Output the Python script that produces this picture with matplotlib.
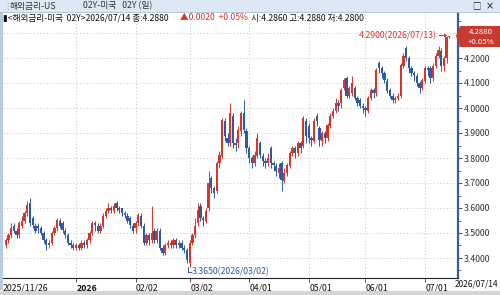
import numpy as np
import pandas as pd
import matplotlib
matplotlib.use("Agg")
import matplotlib.pyplot as plt
from matplotlib.patches import Rectangle, Polygon

# daily candles, 02Y US treasury yield
dates = pd.bdate_range("2025-11-26", "2026-07-14")

opens = [3.45, 3.47, 3.49, 3.53, 3.51, 3.49, 3.53, 3.55, 3.58, 3.62,
         3.56, 3.53, 3.53, 3.52, 3.50, 3.47, 3.45, 3.46, 3.50, 3.52,
         3.55, 3.54, 3.51, 3.49, 3.46, 3.45, 3.44, 3.45, 3.44, 3.46,
         3.45, 3.47, 3.50, 3.54, 3.53, 3.51, 3.53, 3.57, 3.59, 3.60,
         3.59, 3.62, 3.60, 3.60, 3.58, 3.57, 3.56, 3.53, 3.52, 3.54,
         3.57, 3.53, 3.46, 3.49, 3.47, 3.51, 3.47, 3.51, 3.44, 3.42,
         3.45, 3.46, 3.45, 3.47, 3.45, 3.46, 3.44, 3.43, 3.38, 3.46,
         3.49, 3.54, 3.61, 3.56, 3.55, 3.60, 3.72, 3.68, 3.67, 3.78,
         3.81, 3.95, 3.88, 3.86, 3.97, 3.86, 3.86, 3.91, 3.98, 3.91,
         3.84, 3.80, 3.78, 3.81, 3.86, 3.81, 3.79, 3.78, 3.84, 3.78,
         3.77, 3.74, 3.78, 3.71, 3.74, 3.77, 3.82, 3.84, 3.82, 3.86,
         3.85, 3.95, 3.93, 3.88, 3.87, 3.97, 3.92, 3.87, 3.90, 3.88,
         3.93, 3.97, 3.99, 4.02, 4.02, 4.08, 4.12, 4.05, 4.06, 4.08,
         4.04, 4.03, 4.01, 4.00, 3.99, 4.04, 4.07, 4.06, 4.18, 4.16,
         4.14, 4.11, 4.07, 4.05, 4.03, 4.04, 4.05, 4.17, 4.24, 4.20,
         4.16, 4.14, 4.13, 4.10, 4.08, 4.11, 4.16, 4.16, 4.12, 4.17,
         4.21, 4.23, 4.17, 4.20, 4.286]
closes = [3.47, 3.49, 3.52, 3.51, 3.49, 3.54, 3.55, 3.58, 3.61, 3.54,
          3.53, 3.51, 3.52, 3.50, 3.47, 3.45, 3.46, 3.50, 3.52, 3.55,
          3.53, 3.51, 3.49, 3.46, 3.45, 3.44, 3.45, 3.44, 3.46, 3.45,
          3.47, 3.50, 3.54, 3.53, 3.51, 3.53, 3.57, 3.59, 3.60, 3.59,
          3.61, 3.60, 3.59, 3.58, 3.57, 3.55, 3.53, 3.51, 3.54, 3.57,
          3.53, 3.46, 3.49, 3.47, 3.50, 3.47, 3.51, 3.44, 3.42, 3.45,
          3.46, 3.45, 3.47, 3.45, 3.46, 3.44, 3.43, 3.39, 3.46, 3.49,
          3.53, 3.59, 3.56, 3.55, 3.59, 3.70, 3.68, 3.66, 3.78, 3.81,
          3.95, 3.89, 3.86, 3.98, 3.86, 3.85, 3.91, 3.98, 3.91, 3.84,
          3.80, 3.78, 3.81, 3.88, 3.81, 3.79, 3.78, 3.80, 3.78, 3.77,
          3.75, 3.76, 3.71, 3.74, 3.77, 3.82, 3.84, 3.82, 3.86, 3.84,
          3.96, 3.89, 3.88, 3.87, 3.95, 3.95, 3.87, 3.90, 3.88, 3.93,
          3.97, 3.99, 4.02, 4.01, 4.07, 4.11, 4.05, 4.08, 4.10, 4.04,
          4.02, 4.01, 4.00, 3.99, 4.04, 4.07, 4.06, 4.15, 4.16, 4.14,
          4.11, 4.07, 4.05, 4.03, 4.04, 4.05, 4.17, 4.21, 4.20, 4.16,
          4.14, 4.13, 4.10, 4.08, 4.11, 4.16, 4.15, 4.12, 4.17, 4.21,
          4.23, 4.17, 4.20, 4.286, 4.288]
highs = [3.48, 3.50, 3.54, 3.54, 3.52, 3.55, 3.57, 3.59, 3.63, 3.64,
         3.57, 3.54, 3.54, 3.53, 3.51, 3.48, 3.47, 3.51, 3.53, 3.56,
         3.56, 3.55, 3.52, 3.50, 3.47, 3.46, 3.46, 3.46, 3.47, 3.47,
         3.48, 3.51, 3.55, 3.55, 3.54, 3.54, 3.58, 3.60, 3.62, 3.61,
         3.62, 3.63, 3.61, 3.60, 3.59, 3.58, 3.57, 3.54, 3.55, 3.58,
         3.58, 3.54, 3.50, 3.50, 3.61, 3.52, 3.52, 3.52, 3.45, 3.46,
         3.47, 3.47, 3.48, 3.48, 3.47, 3.47, 3.45, 3.44, 3.47, 3.50,
         3.56, 3.62, 3.62, 3.57, 3.60, 3.75, 3.73, 3.69, 3.79, 3.83,
         3.96, 3.96, 3.90, 4.02, 3.98, 3.88, 3.93, 3.99, 4.03, 3.92,
         3.85, 3.81, 3.83, 3.90, 3.87, 3.82, 3.80, 3.82, 3.85, 3.79,
         3.78, 3.78, 3.79, 3.76, 3.78, 3.83, 3.85, 3.85, 3.87, 3.87,
         3.97, 3.96, 3.94, 3.89, 3.96, 3.98, 3.93, 3.91, 3.91, 3.94,
         3.98, 4.00, 4.04, 4.03, 4.08, 4.12, 4.13, 4.09, 4.13, 4.09,
         4.05, 4.04, 4.02, 4.01, 4.05, 4.08, 4.08, 4.16, 4.19, 4.17,
         4.15, 4.12, 4.08, 4.06, 4.05, 4.06, 4.18, 4.22, 4.25, 4.21,
         4.17, 4.15, 4.14, 4.11, 4.12, 4.17, 4.17, 4.17, 4.18, 4.22,
         4.25, 4.24, 4.21, 4.29, 4.288]
lows = [3.44, 3.46, 3.48, 3.50, 3.48, 3.48, 3.52, 3.54, 3.57, 3.53,
        3.52, 3.50, 3.50, 3.49, 3.46, 3.43, 3.44, 3.45, 3.49, 3.51,
        3.52, 3.50, 3.48, 3.45, 3.44, 3.43, 3.43, 3.43, 3.43, 3.44,
        3.44, 3.46, 3.49, 3.51, 3.50, 3.50, 3.52, 3.56, 3.58, 3.58,
        3.58, 3.59, 3.58, 3.57, 3.56, 3.54, 3.52, 3.50, 3.50, 3.53,
        3.52, 3.45, 3.45, 3.45, 3.46, 3.46, 3.46, 3.43, 3.41, 3.41,
        3.44, 3.44, 3.44, 3.44, 3.44, 3.43, 3.42, 3.38, 3.365, 3.45,
        3.48, 3.53, 3.55, 3.53, 3.54, 3.59, 3.66, 3.64, 3.66, 3.76,
        3.80, 3.87, 3.85, 3.85, 3.84, 3.83, 3.84, 3.89, 3.90, 3.82,
        3.78, 3.76, 3.77, 3.80, 3.80, 3.77, 3.76, 3.77, 3.76, 3.75,
        3.73, 3.72, 3.67, 3.70, 3.73, 3.76, 3.81, 3.80, 3.81, 3.82,
        3.84, 3.86, 3.86, 3.85, 3.86, 3.93, 3.85, 3.85, 3.86, 3.87,
        3.92, 3.96, 3.98, 3.99, 4.00, 4.07, 4.04, 4.04, 4.05, 4.03,
        4.01, 4.00, 3.98, 3.97, 3.98, 4.03, 4.04, 4.05, 4.14, 4.12,
        4.10, 4.06, 4.04, 4.02, 4.02, 4.03, 4.04, 4.16, 4.19, 4.14,
        4.13, 4.11, 4.09, 4.06, 4.07, 4.10, 4.13, 4.10, 4.11, 4.16,
        4.20, 4.15, 4.15, 4.18, 4.280]

tick_dates = ["2026-01-01", "2026-02-02", "2026-03-02", "2026-04-01",
              "2026-05-01", "2026-06-01", "2026-07-01"]
tick_labels = ["2026", "02/02", "03/02", "04/01", "05/01", "06/01", "07/01"]

RED = "#d8352a"
BLUE = "#2f58a6"
NARROW = ["Liberation Sans Narrow", "Noto Sans CJK KR", "DejaVu Sans"]
KR = ["Noto Sans CJK KR", "DejaVu Sans"]

W, H = 500, 295
fig = plt.figure(figsize=(W / 100, H / 100), dpi=100)
fig.patch.set_facecolor("white")

def fx(px):
    return px / W

def fy(py):
    return 1 - py / H

# plot area: x 3..458, y 12..278 in pixels
ax = fig.add_axes([fx(3), fy(278), fx(455), (278 - 12) / H])
o = np.array(opens); c = np.array(closes)
h = np.array(highs); l = np.array(lows)
x = np.arange(len(dates))
cols = np.where(c >= o, RED, BLUE)

ax.vlines(x, l, h, colors=cols, lw=0.7, zorder=3)
body = np.where(np.abs(c - o) < 0.003, 0.003, c - o)
ax.bar(x, body, bottom=o, width=0.85, color=cols, lw=0, zorder=4)

ax.set_xlim(-1.0, 167.2)
ax.set_ylim(3.32, 4.384)

# axes look
for s in ["top", "left"]:
    ax.spines[s].set_visible(False)
ax.spines["bottom"].set_color("#222222")
ax.spines["bottom"].set_linewidth(0.8)
ax.spines["right"].set_color("#3a5c9a")
ax.spines["right"].set_linewidth(1.6)

ax.yaxis.tick_right()
yt = np.round(np.arange(3.4, 4.31, 0.1), 1)
ax.set_yticks(yt)
# the 4.3 label sits under the price tag
ax.set_yticklabels([f"{v:.4f}" if v < 4.25 else "" for v in yt],
                   fontsize=6.3, family=NARROW, color="#333333")
ax.set_yticks(np.round(np.arange(3.35, 4.36, 0.1), 2), minor=True)
ax.tick_params(axis="y", which="major", length=3, width=0.6, color="#333333", pad=1)
ax.tick_params(axis="y", which="minor", length=2, width=0.5, color="#333333")

pos = [dates.searchsorted(pd.Timestamp(d)) for d in tick_dates]
ax.set_xticks(pos)
ax.set_xticklabels([])
ax.tick_params(axis="x", length=3, width=0.6, color="#333333")
for p, lab in zip(pos, tick_labels):
    ax.text(p + 0.2, -0.022, lab, transform=ax.get_xaxis_transform(), ha="left", va="top",
            fontsize=6.3, family=NARROW, color="#111111",
            fontweight="bold" if lab == "2026" else "normal")
ax.text(0.0, -0.022, "2025/11/26", transform=ax.transAxes, ha="left", va="top",
        fontsize=6.3, family=NARROW, color="#111111")
fig.text(fx(455), fy(280), "2026/07/14", ha="left", va="top", fontsize=6.0,
         family=NARROW, color="#111111")

ax.grid(True, which="major", color="#c8c8c8", lw=0.6, linestyle=(0, (1.5, 2.5)))
ax.set_axisbelow(True)

# annotations
ax.annotate("4.2900(2026/07/13)", xy=(163.4, 4.29), xytext=(159.2, 4.29),
            ha="right", va="center", fontsize=6.3, family=NARROW, color=RED,
            arrowprops=dict(arrowstyle="-|>", color=RED, lw=0.7, mutation_scale=4,
                            shrinkA=0, shrinkB=0))
ax.plot([67.5, 67.5, 68.6], [3.362, 3.345, 3.345], color=BLUE, lw=0.7)
ax.text(68.8, 3.345, "3.3650(2026/03/02)", ha="left", va="center",
        fontsize=6.3, family=NARROW, color=BLUE)

# header bar
fig.patches.append(Rectangle((0, fy(12)), 1, 12 / H, transform=fig.transFigure,
                             facecolor="#dde8f5", edgecolor="none", zorder=0))
fig.lines.append(plt.Line2D([0, 1], [fy(12), fy(12)], transform=fig.transFigure,
                            color="#a9bedb", lw=0.6))
fig.text(fx(3), fy(6), "⋮", ha="left", va="center", fontsize=6, color="#888888")
fig.text(fx(10), fy(6), "해외금리-US", ha="left", va="center", fontsize=6.3,
         family=KR, color="#333333")
fig.text(fx(83), fy(6), "02Y-미국   02Y (일)", ha="left", va="center", fontsize=6.3,
         family=KR, color="#333333")
fig.text(fx(476), fy(6), "□", ha="center", va="center", fontsize=6, family=KR, color="#222222")
fig.text(fx(490), fy(6), "×", ha="center", va="center", fontsize=7, color="#222222")

# left edge bar
fig.patches.append(Rectangle((0, fy(290)), fx(3), (290 - 12) / H, transform=fig.transFigure,
                             facecolor="#b7cbe6", edgecolor="none", zorder=0))

# info line
fig.text(fx(3), fy(18), "▮<해외금리-미국  02Y>2026/07/14 종:4.2880", ha="left", va="center",
         fontsize=6.2, family=NARROW, color="#111111")
fig.text(fx(180), fy(18), "▲0.0020  +0.05%", ha="left", va="center",
         fontsize=6.2, family=NARROW, color=RED)
fig.text(fx(251), fy(18), "시:4.2860 고:4.2880 저:4.2800", ha="left", va="center",
         fontsize=6.2, family=NARROW, color="#111111")

# current price tag
tag = [(456, 36), (460, 26), (500, 26), (500, 47), (460, 47)]
fig.patches.append(Polygon([(fx(a), fy(b)) for a, b in tag], closed=True,
                           transform=fig.transFigure, facecolor="#c63a2f",
                           edgecolor="none", zorder=5))
fig.text(fx(481), fy(31.5), "4.2880", ha="center", va="center", fontsize=5.6,
         family=NARROW, color="white", zorder=6)
fig.text(fx(481), fy(41.5), "+0.05%", ha="center", va="center", fontsize=5.6,
         family=NARROW, color="white", zorder=6)

# bottom strip
fig.patches.append(Rectangle((0, 0), 1, 4 / H, transform=fig.transFigure,
                             facecolor="#d4d4d4", edgecolor="none", zorder=0))

fig.savefig("out.png", dpi=100)
